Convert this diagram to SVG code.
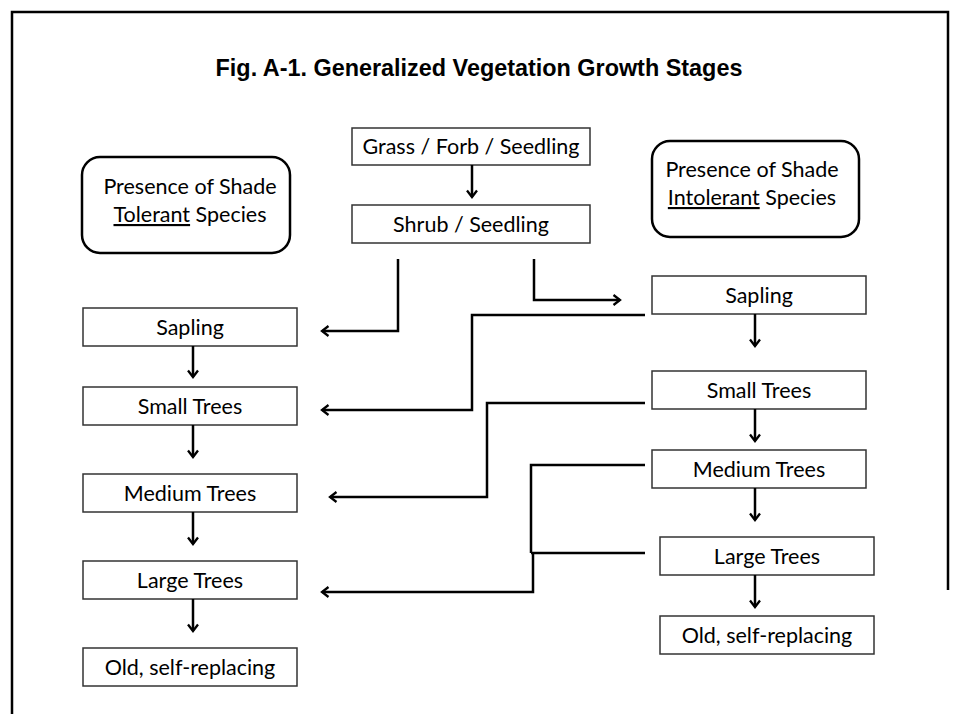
<svg xmlns="http://www.w3.org/2000/svg" width="960" height="714" viewBox="0 0 960 714">
<style>
.bg{fill:#fff}
.frame{fill:none;stroke:#000;stroke-width:2.5}
.title{font-family:"Liberation Sans",Arial,sans-serif;font-weight:bold;font-size:23.4px;fill:#000;text-anchor:middle}
.box{fill:#fff;stroke:#333;stroke-width:1.5}
.rbox{fill:#fff;stroke:#000;stroke-width:2.5}
.lbl{font-family:Lato,"Open Sans",sans-serif;font-size:21.5px;fill:#000;text-anchor:middle}
.con{fill:none;stroke:#000;stroke-width:2.5}
.arr{fill:none;stroke:#000;stroke-width:2.5;marker-end:url(#ah)}
</style>
<defs>
<marker id="ah" markerUnits="userSpaceOnUse" markerWidth="16" markerHeight="16" refX="10" refY="8" orient="auto">
<path d="M3.5,3 L10,8 L3.5,13" fill="none" stroke="#000" stroke-width="2.3"/>
</marker>
</defs>
<rect class="bg" x="0" y="0" width="960" height="714"/>
<path class="frame" d="M12,714 V12 H948 V590"/>
<text class="title" x="479" y="76">Fig. A-1. Generalized Vegetation Growth Stages</text>

<g id="grass"><rect class="box" x="352" y="128" width="238" height="37"/><text class="lbl" x="471" y="154">Grass / Forb / Seedling</text></g>
<g id="shrub"><rect class="box" x="352" y="205" width="238" height="38"/><text class="lbl" x="471" y="231.5">Shrub / Seedling</text></g>
<g id="tolerant"><rect class="rbox" x="82" y="157" width="208" height="96" rx="18"/><text class="lbl" x="190" y="194">Presence of Shade</text><text class="lbl" x="190" y="222"><tspan text-decoration="underline">Tolerant</tspan> Species</text></g>
<g id="intolerant"><rect class="rbox" x="652" y="141" width="207" height="96" rx="18"/><text class="lbl" x="752" y="177">Presence of Shade</text><text class="lbl" x="752" y="205"><tspan text-decoration="underline">Intolerant</tspan> Species</text></g>

<g id="l-sapling"><rect class="box" x="83" y="308" width="214" height="38"/><text class="lbl" x="190" y="334.5">Sapling</text></g>
<g id="l-small"><rect class="box" x="83" y="387" width="214" height="38"/><text class="lbl" x="190" y="413.5">Small Trees</text></g>
<g id="l-medium"><rect class="box" x="83" y="474" width="214" height="38"/><text class="lbl" x="190" y="500.5">Medium Trees</text></g>
<g id="l-large"><rect class="box" x="83" y="561" width="214" height="38"/><text class="lbl" x="190" y="587.5">Large Trees</text></g>
<g id="l-old"><rect class="box" x="83" y="648" width="214" height="38"/><text class="lbl" x="190" y="674.5">Old, self-replacing</text></g>

<g id="r-sapling"><rect class="box" x="652" y="276" width="214" height="38"/><text class="lbl" x="759" y="302.5">Sapling</text></g>
<g id="r-small"><rect class="box" x="652" y="371" width="214" height="38"/><text class="lbl" x="759" y="397.5">Small Trees</text></g>
<g id="r-medium"><rect class="box" x="652" y="450" width="214" height="38"/><text class="lbl" x="759" y="476.5">Medium Trees</text></g>
<g id="r-large"><rect class="box" x="660" y="537" width="214" height="38"/><text class="lbl" x="767" y="563.5">Large Trees</text></g>
<g id="r-old"><rect class="box" x="660" y="616" width="214" height="38"/><text class="lbl" x="767" y="642.5">Old, self-replacing</text></g>

<g id="connectors">
<path class="arr" d="M472,165 V197"/>
<path class="arr" d="M193,346 V377"/>
<path class="arr" d="M193,425 V457"/>
<path class="arr" d="M193,512 V544"/>
<path class="arr" d="M193,599 V631"/>
<path class="arr" d="M755,314 V346"/>
<path class="arr" d="M755,409 V441"/>
<path class="arr" d="M755,488 V520"/>
<path class="arr" d="M755,575 V607"/>
<path class="arr" d="M398,259 V331 H322"/>
<path class="arr" d="M534,259 V300 H620"/>
<path class="arr" d="M645,315 H472 V410 H322"/>
<path class="arr" d="M645,403 H487 V497 H330"/>
<path class="con" d="M645,465 H531 V553"/>
<path class="con" d="M645,553 H531"/>
<path class="arr" d="M533,553 V592 H322"/>
</g>
</svg>
